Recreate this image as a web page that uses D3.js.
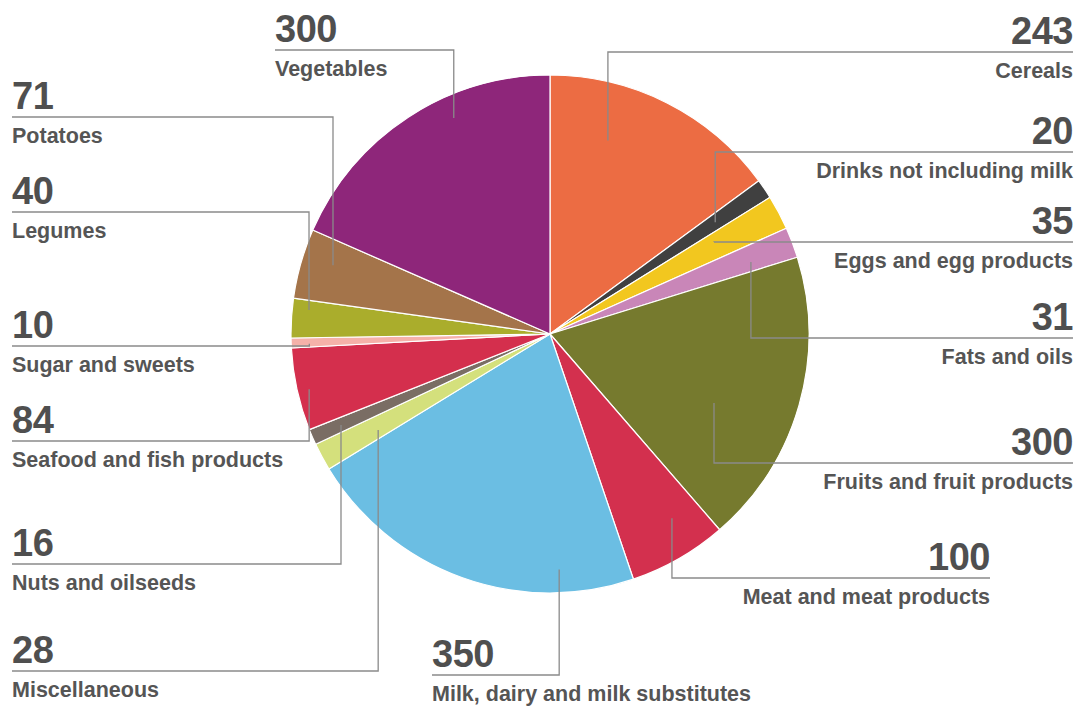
<!DOCTYPE html>
<html>
<head>
<meta charset="utf-8">
<script src="https://cdn.jsdelivr.net/npm/d3@7"></script>
<style>
  html, body { margin: 0; padding: 0; background: #fff; }
  svg { display: block; }
  text { font-family: "Liberation Sans", Arial, Helvetica, sans-serif; font-weight: bold; }
</style>
</head>
<body>
<svg id="chart" width="1082" height="706"></svg>
<script>
// ---- Data ----
const categories = [
  "Cereals", "Drinks not including milk", "Eggs and egg products", "Fats and oils",
  "Fruits and fruit products", "Meat and meat products", "Milk, dairy and milk substitutes",
  "Miscellaneous", "Nuts and oilseeds", "Seafood and fish products", "Sugar and sweets",
  "Legumes", "Potatoes", "Vegetables"
];
const values = [243, 20, 35, 31, 300, 100, 350, 28, 16, 84, 10, 40, 71, 300];
const colors = [
  "#EC6C43", "#404040", "#F2C71F", "#C986B8", "#767A2E", "#D3304E", "#6BBEE3",
  "#D4E07C", "#7A6D64", "#D42F4D", "#F5B1A9", "#AAAD2C", "#A4744A", "#8E267A"
];

// ---- Label layout (annotation placement) ----
// side: text alignment; lx: text x; ry: rule y; t/k: leader anchor inside slice (angle fraction, radius fraction)
const labelLayout = [
  { side: "end",   lx: 1073, ry: 52,  t: 0.31, k: 0.78 },
  { side: "end",   lx: 1073, ry: 152, t: 0.50, k: 0.77 },
  { side: "end",   lx: 1073, ry: 242, t: 0.33, k: 0.726 },
  { side: "end",   lx: 1073, ry: 338, t: 0.64, k: 0.824 },
  { side: "end",   lx: 1073, ry: 463, t: 0.604, k: 0.687 },
  { side: "end",   lx: 990,  ry: 578, t: 0.335, k: 0.853 },
  { side: "start", lx: 432,  ry: 675, t: 0.214, k: 0.91 },
  { side: "start", lx: 12,   ry: 671, t: 0.355, k: 0.76 },
  { side: "start", lx: 12,   ry: 564, t: 0.48, k: 0.88 },
  { side: "start", lx: 12,   ry: 441, t: 0.472, k: 0.954 },
  { side: "start", lx: 12,   ry: 346, t: 0.35, k: 0.93 },
  { side: "start", lx: 12,   ry: 212, t: 0.74, k: 0.935 },
  { side: "start", lx: 12,   ry: 117, t: 0.614, k: 0.879 },
  { side: "start", lx: 275,  ry: 50,  t: 0.638, k: 0.913 }
];

const cx = 550, cy = 334, R = 259;

const svg = d3.select("#chart");
const data = categories.map((c, i) => ({ name: c, value: values[i], color: colors[i], layout: labelLayout[i] }));

const pie = d3.pie().sort(null).value(d => d.value).startAngle(0).endAngle(2 * Math.PI);
const arcs = pie(data);
const arc = d3.arc().innerRadius(0).outerRadius(R);

const g = svg.append("g").attr("transform", `translate(${cx},${cy})`);
g.selectAll("path.slice")
  .data(arcs)
  .join("path")
  .attr("class", "slice")
  .attr("d", arc)
  .attr("fill", d => d.data.color)
  .attr("stroke", "#fff")
  .attr("stroke-width", 1.2)
  .attr("stroke-linejoin", "round");

// leaders
const lines = svg.append("g");
arcs.forEach(a => {
  const L = a.data.layout;
  const th = a.startAngle + (a.endAngle - a.startAngle) * L.t;
  const ax = cx + Math.sin(th) * R * L.k;
  const ay = cy - Math.cos(th) * R * L.k;
  const pts = [[L.lx, L.ry], [ax, L.ry], [ax, ay]];
  lines.append("path")
    .attr("d", d3.line()(pts))
    .attr("fill", "none")
    .attr("stroke", "#8a8a8a")
    .attr("stroke-width", 1.3);
});

// labels
const labels = svg.append("g");
arcs.forEach(a => {
  const L = a.data.layout;
  labels.append("text")
    .attr("x", L.lx)
    .attr("y", L.ry - 8)
    .attr("text-anchor", L.side)
    .attr("font-size", 38)
    .attr("letter-spacing", -0.5)
    .attr("fill", "#4f4f4f")
    .text(a.data.value);
  labels.append("text")
    .attr("x", L.lx)
    .attr("y", L.ry + 26)
    .attr("text-anchor", L.side)
    .attr("font-size", 21.5)
    .attr("fill", "#555")
    .text(a.data.name);
});
</script>
</body>
</html>
